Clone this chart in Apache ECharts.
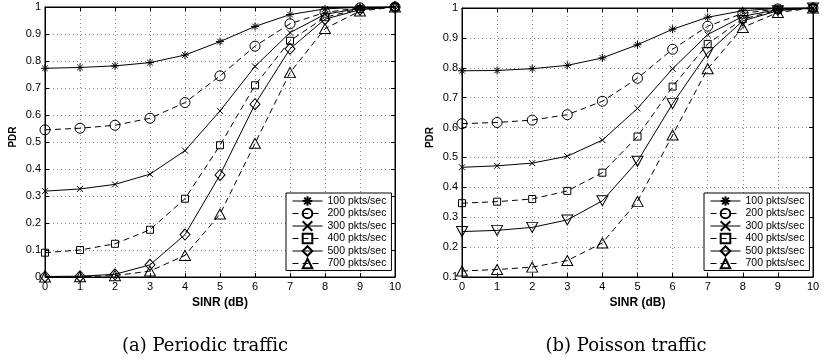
<!DOCTYPE html>
<html>
<head>
<meta charset="utf-8">
<script src="https://cdn.jsdelivr.net/npm/echarts@6/dist/echarts.min.js"></script>
<style>html,body{margin:0;padding:0;background:#fff}#c{width:824px;height:358px}</style>
</head>
<body>
<div id="c"></div>
<script>
var sinr = [0, 1, 2, 3, 4, 5, 6, 7, 8, 9, 10];
var seriesNames = ['100 pkts/sec', '200 pkts/sec', '300 pkts/sec', '400 pkts/sec', '500 pkts/sec', '700 pkts/sec'];

// (a) Periodic traffic
var periodic100 = [0.773, 0.776, 0.782, 0.794, 0.822, 0.872, 0.928, 0.972, 0.993, 0.999, 1.0];
var periodic200 = [0.545, 0.551, 0.562, 0.588, 0.646, 0.745, 0.855, 0.938, 0.980, 0.997, 1.0];
var periodic300 = [0.318, 0.326, 0.343, 0.381, 0.468, 0.615, 0.780, 0.905, 0.973, 0.995, 1.0];
var periodic400 = [0.090, 0.100, 0.123, 0.175, 0.290, 0.488, 0.710, 0.875, 0.962, 0.993, 1.0];
var periodic500 = [0.002, 0.003, 0.010, 0.045, 0.157, 0.378, 0.640, 0.845, 0.955, 0.990, 1.0];
var periodic700 = [0.000, 0.001, 0.005, 0.022, 0.080, 0.233, 0.495, 0.757, 0.920, 0.985, 1.0];

// (b) Poisson traffic
var poisson100 = [0.790, 0.791, 0.797, 0.808, 0.833, 0.877, 0.929, 0.969, 0.991, 0.999, 1.0];
var poisson200 = [0.613, 0.617, 0.625, 0.643, 0.688, 0.765, 0.862, 0.939, 0.982, 0.997, 1.0];
var poisson300 = [0.467, 0.472, 0.481, 0.504, 0.558, 0.664, 0.797, 0.911, 0.972, 0.995, 1.0];
var poisson400 = [0.347, 0.352, 0.361, 0.388, 0.449, 0.570, 0.737, 0.880, 0.963, 0.993, 1.0];
var poisson500 = [0.252, 0.256, 0.266, 0.291, 0.355, 0.487, 0.680, 0.850, 0.957, 0.991, 1.0];
var poisson700 = [0.120, 0.125, 0.133, 0.155, 0.214, 0.353, 0.575, 0.797, 0.935, 0.985, 1.0];

var xTicks = [0, 1, 2, 3, 4, 5, 6, 7, 8, 9, 10];
var captions = ['(a) Periodic traffic', '(b) Poisson traffic'];
var xName = 'SINR (dB)';
var yName = 'PDR';

var SYM = {
  star: 'path://M5,0L5,10M0,5L10,5M1.5,1.5L8.5,8.5M8.5,1.5L1.5,8.5',
  cross: 'path://M0,0L10,10M10,0L0,10',
  down: 'path://M0,0L10,0L5,9Z',
  up: 'path://M5,0L10,9L0,9Z',
  diamond: 'path://M5,0L10,6L5,12L0,6Z'
};
var styleA = [
  {sym: SYM.star, size: 8, dash: 'solid'},
  {sym: 'circle', size: 10, dash: [6, 4]},
  {sym: SYM.cross, size: 6, dash: 'solid'},
  {sym: 'rect', size: 7, dash: [6, 4]},
  {sym: SYM.diamond, size: [10, 11], dash: 'solid'},
  {sym: SYM.up, size: [11, 10], dash: [6, 4]}
];
var styleB = styleA.slice();
styleB[4] = {sym: SYM.down, size: [11, 10], dash: 'solid'};

var dataA = [periodic100, periodic200, periodic300, periodic400, periodic500, periodic700];
var dataB = [poisson100, poisson200, poisson300, poisson400, poisson500, poisson700];

function mkSeries(data, styles, idx) {
  return data.map(function (arr, i) {
    var st = styles[i];
    return {
      name: seriesNames[i],
      type: 'line',
      xAxisIndex: idx * 2,
      yAxisIndex: idx * 2,
      data: sinr.map(function (x, k) { return [x, arr[k]]; }),
      symbol: st.sym,
      symbolSize: st.size,
      showAllSymbol: true,
      lineStyle: {color: '#000', width: 1, type: st.dash},
      itemStyle: {color: 'rgba(0,0,0,0)', borderColor: '#000', borderWidth: 1},
      emphasis: {disabled: true},
      animation: false,
      z: 3
    };
  });
}

var font = 'Liberation Sans, Arial, sans-serif';
var grids = [
  {left: 45, right: 429, top: 7, bottom: 81, show: true, borderColor: '#000', borderWidth: 1},
  {left: 462, right: 11, top: 8, bottom: 81, show: true, borderColor: '#000', borderWidth: 1}
];
var yMins = [0, 0.1];

var xAxes = [], yAxes = [];
[0, 1].forEach(function (g) {
  xAxes.push({
    type: 'value', gridIndex: g, min: 0, max: 10, interval: 1,
    name: xName, nameLocation: 'middle', nameGap: 17,
    nameTextStyle: {fontFamily: font, fontSize: 12, fontWeight: 'bold', color: '#000'},
    axisLine: {show: true, onZero: false, lineStyle: {color: '#000', width: 1}},
    axisTick: {show: true, inside: true, length: 4, lineStyle: {color: '#000'}},
    axisLabel: {fontFamily: font, fontSize: 11, color: '#000', margin: 4,
      formatter: function (v) { return xTicks.indexOf(v) >= 0 ? String(v) : ''; }},
    splitLine: {show: true, lineStyle: {color: '#888', type: [1, 3], width: 1}}
  });
  xAxes.push({
    type: 'value', gridIndex: g, min: 0, max: 10, interval: 1, position: 'top',
    axisLine: {show: true, onZero: false, lineStyle: {color: '#000', width: 1}},
    axisTick: {show: true, inside: true, length: 4, lineStyle: {color: '#000'}},
    axisLabel: {show: false}, splitLine: {show: false}
  });
  yAxes.push({
    type: 'value', gridIndex: g, min: yMins[g], max: 1, interval: 0.1,
    name: yName, nameLocation: 'middle', nameGap: 27,
    nameTextStyle: {fontFamily: font, fontSize: 10, fontWeight: 'bold', color: '#000', padding: [0, 0, 0, 10]},
    axisLine: {show: true, onZero: false, lineStyle: {color: '#000', width: 1}},
    axisTick: {show: true, inside: true, length: 4, lineStyle: {color: '#000'}},
    axisLabel: {fontFamily: font, fontSize: 11, color: '#000', margin: 4,
      formatter: function (v) { return String(+v.toFixed(1)); }},
    splitLine: {show: true, lineStyle: {color: '#888', type: [1, 3], width: 1}}
  });
  yAxes.push({
    type: 'value', gridIndex: g, min: yMins[g], max: 1, interval: 0.1, position: 'right',
    axisLine: {show: true, onZero: false, lineStyle: {color: '#000', width: 1}},
    axisTick: {show: true, inside: true, length: 4, lineStyle: {color: '#000'}},
    axisLabel: {show: false}, splitLine: {show: false}
  });
});

function mkLegend(left, top) {
  return {
    left: left, top: top, orient: 'vertical',
    data: seriesNames,
    backgroundColor: '#fff', borderColor: '#000', borderWidth: 1,
    padding: [2, 5, 1, 6], itemGap: 0.5, itemWidth: 30, itemHeight: 12,
    lineStyle: {width: 1},
    textStyle: {fontFamily: font, fontSize: 10.5, color: '#000', lineHeight: 12},
    selectedMode: false
  };
}

var capStyle = {fontFamily: 'DejaVu Serif, serif', fontSize: 18, fontWeight: 'normal', color: '#000'};
var chart = echarts.init(document.getElementById('c'), null, {renderer: 'canvas'});
chart.setOption({
  animation: false,
  backgroundColor: '#fff',
  grid: grids,
  xAxis: xAxes,
  yAxis: yAxes,
  legend: [mkLegend(286, 193), mkLegend(704, 193)],
  title: [
    {text: captions[0], left: 200, top: 332, textAlign: 'center', textStyle: capStyle},
    {text: captions[1], left: 621, top: 332, textAlign: 'center', textStyle: capStyle}
  ],
  series: [].concat(mkSeries(dataA, styleA, 0), mkSeries(dataB, styleB, 1))
});
</script>
</body>
</html>
